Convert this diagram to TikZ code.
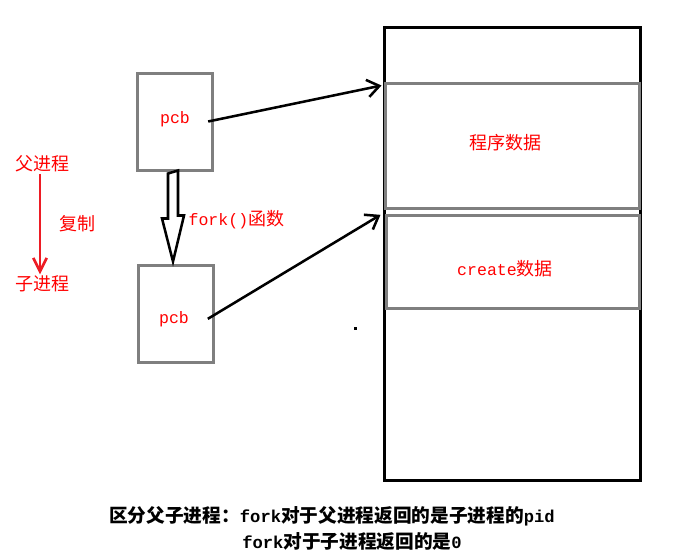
\documentclass[tikz,border=0pt]{standalone}
\usepackage{fontspec}
\setmainfont[Scale=0.92]{Liberation Mono}
\newfontfamily\cjk{Noto Sans CJK SC}
\newcommand{\zh}[1]{{\cjk #1}}
\usetikzlibrary{arrows.meta,calc}
\definecolor{paintred}{RGB}{237,28,36}
\definecolor{boxgray}{RGB}{127,127,127}

\begin{document}
\begin{tikzpicture}[x=0.75pt,y=-0.75pt,
    box/.style={draw=boxgray, line width=2.25pt, inner sep=0pt},
    redtext/.style={text=red, inner sep=1pt, font=\fontsize{13.5}{16}\selectfont},
    notetext/.style={anchor=west, inner sep=0pt, font=\bfseries\fontsize{14}{17}\selectfont},
    link/.style={-{Straight Barb[length=9pt,width=13pt]}, line width=1.9pt}]
    \useasboundingbox (0,0) rectangle (692,558);
    % Memoria
    \node[draw, line width=2.25pt, minimum width=192pt, minimum height=339.75pt] (mem) at (512,253.5) {};
    \node[box, minimum width=190.5pt, minimum height=93.75pt] (prog) at (512,145.5) {};
    \node[box, minimum width=189.75pt, minimum height=69.75pt] (create) at (512.5,261.5) {};
    \node[redtext] (progtxt) at (505,143) {\zh{程序数据}};
    \node[redtext] (createtxt) at (505,269) {create\zh{数据}};
    % PCB
    \node[box, minimum width=56.25pt, minimum height=72.75pt] (pcbA) at (174.5,121.5) {};
    \node[box, minimum width=56.25pt, minimum height=72.75pt] (pcbB) at (175.5,313.5) {};
    \node[redtext] (pcbAtxt) at (175,119) {pcb};
    \node[redtext] (pcbBtxt) at (174,319) {pcb};
    \draw[link] ([xshift=-4pt]pcbA.east) -- ([xshift=-1.5pt,yshift=-3pt]prog.north west);
    \draw[link] ([xshift=-5pt,yshift=-4pt]pcbB.east) -- ([xshift=-3pt,yshift=-1pt]create.north west);
    % Freccia vuota
    \draw[line width=1.9pt, fill=white] ($(pcbA.south)+(-6.5,2)$) -- ++(0,45) -- ++(-6,0)
        -- ($(pcbB.north)+(-2.5,-2)$) -- ++(11,-46) -- ++(-6,0) -- ++(0,-45) -- cycle;
    \node[redtext, anchor=west] (forkfn) at (187,220) {fork()\zh{函数}};
    % Padre e figlio
    \node[redtext] (parent) at (42,164) {\zh{父进程}};
    \node[redtext] (child) at (42,284) {\zh{子进程}};
    \node[redtext] (copy) at (77,224) {\zh{复制}};
    \draw[paintred, line width=2pt, -{Straight Barb[length=10pt,width=10pt]}]
        ([xshift=-1.5pt]parent.south) -- ([xshift=-1.5pt]child.north);
    \fill (354,327) rectangle (357,330);
    % Nota
    \node[notetext] (note1) at (109,516) {\zh{区分父子进程：}fork\zh{对于父进程返回的是子进程的}pid};
    \node[notetext] (note2) at (242,541) {fork\zh{对于子进程返回的是}0};
\end{tikzpicture}
\end{document}
